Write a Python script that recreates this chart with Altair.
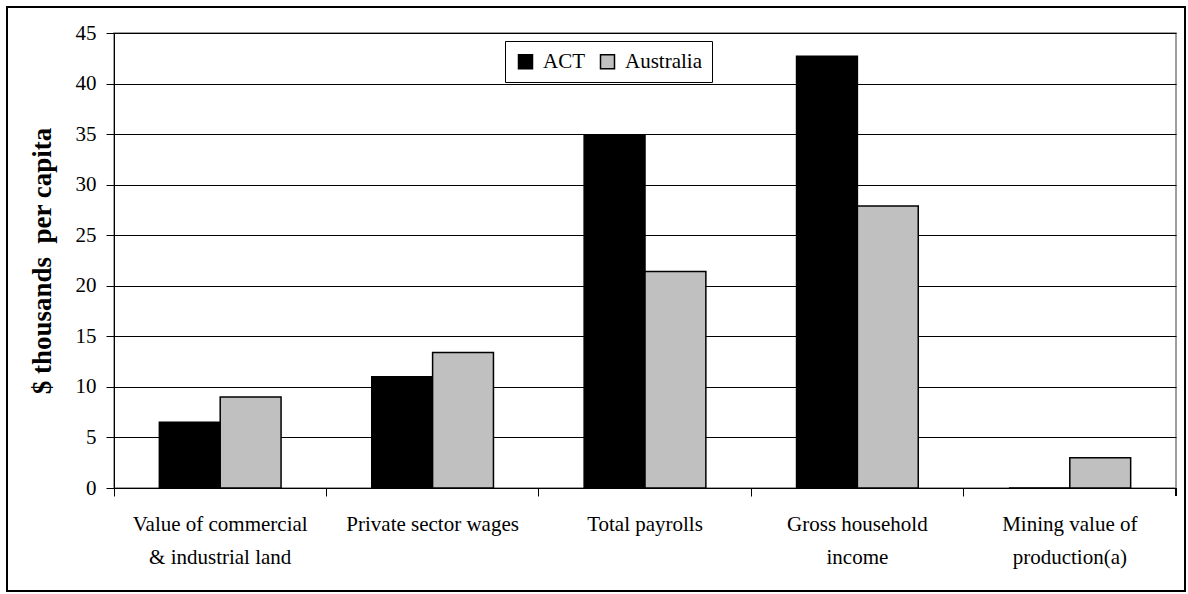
import altair as alt
import pandas as pd

# Per-capita values, $ thousands
categories = [
    "Value of commercial|& industrial land",
    "Private sector wages",
    "Total payrolls",
    "Gross household|income",
    "Mining value of|production(a)",
]
series = ["ACT", "Australia"]
act_values = [6.5, 11.0, 34.9, 42.7, 0.0]
australia_values = [9.0, 13.4, 21.4, 27.9, 3.0]
y_ticks = [0, 5, 10, 15, 20, 25, 30, 35, 40, 45]

rows = []
for cat, a, b in zip(categories, act_values, australia_values):
    rows.append({"category": cat, "series": "ACT", "value": a})
    rows.append({"category": cat, "series": "Australia", "value": b})
df = pd.DataFrame(rows)

W, H = 1062, 455
FONT = "Liberation Serif"

bars = alt.Chart(df).mark_bar(stroke="black", strokeWidth=1.5).encode(
    x=alt.X(
        "category:N",
        sort=categories,
        scale=alt.Scale(paddingInner=0, paddingOuter=0),
        axis=alt.Axis(
            title=None,
            labelAngle=0,
            labelExpr="split(datum.value, '|')",
            bandPosition=0,
            tickSize=8,
            tickColor="black",
            domainColor="black",
            labelFontSize=21,
            labelLineHeight=33,
            labelPadding=17,
            labelBaseline="top",
            labelColor="black",
            grid=False,
        ),
    ),
    xOffset=alt.XOffset(
        "series:N", sort=series, scale=alt.Scale(paddingInner=0, paddingOuter=0.745)
    ),
    y=alt.Y(
        "value:Q",
        scale=alt.Scale(domain=[0, 45], nice=False),
        axis=alt.Axis(
            title="$ thousands\u00a0 per capita",
            values=y_ticks,
            tickSize=8,
            tickColor="black",
            domainColor="black",
            labelFontSize=21,
            labelPadding=10,
            labelColor="black",
            grid=True,
            gridColor="black",
            gridWidth=1,
            titleFontSize=27,
            titleFontWeight="bold",
            titleColor="black",
            titleAngle=270,
            titleX=-72,
            titleY=H / 2,
            titleAlign="center",
            titleBaseline="middle",
        ),
    ),
    color=alt.Color(
        "series:N",
        sort=series,
        scale=alt.Scale(domain=series, range=["#000000", "#c0c0c0"]),
        legend=alt.Legend(
            title=None,
            orient="none",
            legendX=391,
            legendY=8,
            direction="horizontal",
            fillColor="white",
            strokeColor="black",
            padding=10,
            symbolType="square",
            symbolSize=196,
            symbolStrokeColor="black",
            symbolStrokeWidth=1.5,
            labelFontSize=21,
            labelColor="black",
            labelOffset=7,
            columnPadding=12,
        ),
    ),
)

# Tick closing the last category band on the right edge
end_tick = alt.Chart(df).mark_rule(color="black", strokeWidth=1).encode(
    x=alt.value(W), y=alt.value(H), y2=alt.value(H + 8)
)

# Outer frame around the whole figure
frame = alt.Chart(df).mark_rect(fill=None, stroke="black", strokeWidth=1.5, clip=False).encode(
    x=alt.value(-107), x2=alt.value(1071), y=alt.value(-26), y2=alt.value(558)
)

chart = (
    alt.layer(bars, end_tick, frame)
    .properties(
        width=W,
        height=H,
        autosize=alt.AutoSizeParams(type="none"),
        padding={"left": 114, "top": 33, "right": 12, "bottom": 106},
        background="white",
    )
    .configure(font=FONT)
    .configure_view(stroke="#808080", strokeWidth=1.5)
)

chart.save("out.html", embed_options={"renderer": "svg", "actions": False})
